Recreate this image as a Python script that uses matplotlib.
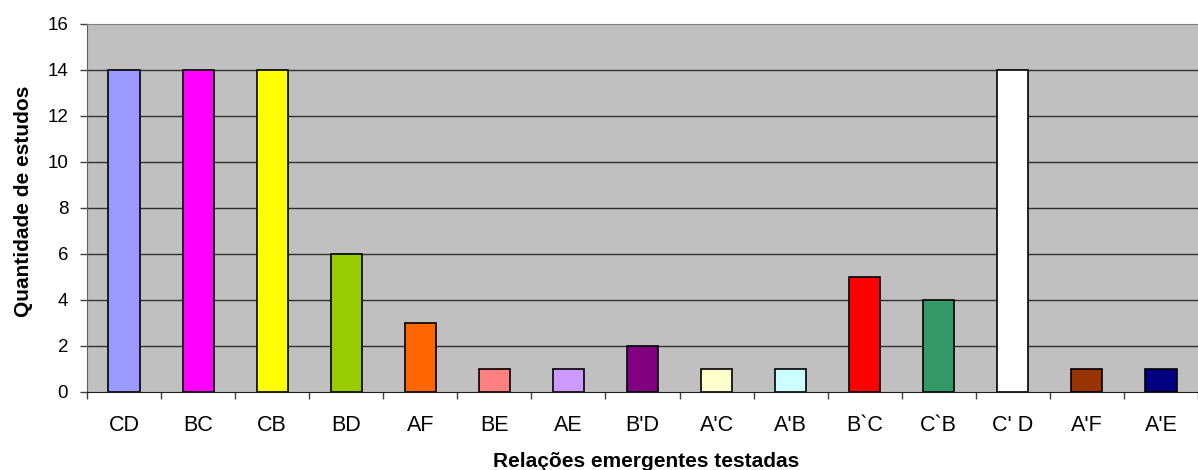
import matplotlib
matplotlib.use("Agg")
import matplotlib.pyplot as plt
import numpy as np

categories = ["CD", "BC", "CB", "BD", "AF", "BE", "AE", "B'D", "A'C", "A'B",
              "B`C", "C`B", "C' D", "A'F", "A'E"]
values = [14, 14, 14, 6, 3, 1, 1, 2, 1, 1, 5, 4, 14, 1, 1]
colors = ["#9999FF", "#FF00FF", "#FFFF00", "#99CC00", "#FF6600", "#FF8080",
          "#CC99FF", "#800080", "#FFFFCC", "#CCFFFF", "#FF0000", "#339966",
          "#FFFFFF", "#993300", "#000080"]
y_ticks = [0, 2, 4, 6, 8, 10, 12, 14, 16]

plt.rcParams["font.family"] = ["Liberation Sans", "DejaVu Sans"]

W, H = 1198, 470
fig = plt.figure(figsize=(W / 100, H / 100), dpi=100)
ax = fig.add_axes([87 / W, 78 / H, 1 - 87 / W, (392 - 24) / H])
ax.set_facecolor("#C0C0C0")

x = np.arange(len(categories))
ax.bar(x, values, width=0.42, color=colors, edgecolor="black", linewidth=1.2,
       zorder=3)

ax.set_xlim(-0.5, len(categories) - 0.5)
ax.set_ylim(0, 16)
ax.set_yticks(y_ticks)
ax.set_yticklabels([str(t) for t in y_ticks], fontsize=13.5)
ax.set_xticks(x)
ax.set_xticklabels(categories, fontsize=15.5)
ax.set_xticks(np.arange(len(categories) + 1) - 0.5, minor=True)
ax.tick_params(axis="x", which="major", length=0, pad=16.5)
ax.tick_params(axis="x", which="minor", length=5, color="#404040", width=1)
ax.tick_params(axis="y", length=5, color="#404040", width=1, pad=8.5)

for t in y_ticks[1:-1]:
    ax.axhline(t, color="#303030", linewidth=1.0, zorder=1)

ax.spines["top"].set_color("#808080")
ax.spines["left"].set_color("#606060")
ax.spines["bottom"].set_color("#202020")
ax.spines["right"].set_visible(False)

fig.text(29.5 / W, 1 - 201.5 / H, "Quantidade de estudos", fontsize=15,
         fontweight="bold", rotation=90, rotation_mode="anchor",
         ha="center", va="baseline")
fig.text(646 / W, 1 - 467 / H, "Relações emergentes testadas", fontsize=15,
         fontweight="bold", ha="center", va="baseline")

fig.savefig("out.png", dpi=100)
